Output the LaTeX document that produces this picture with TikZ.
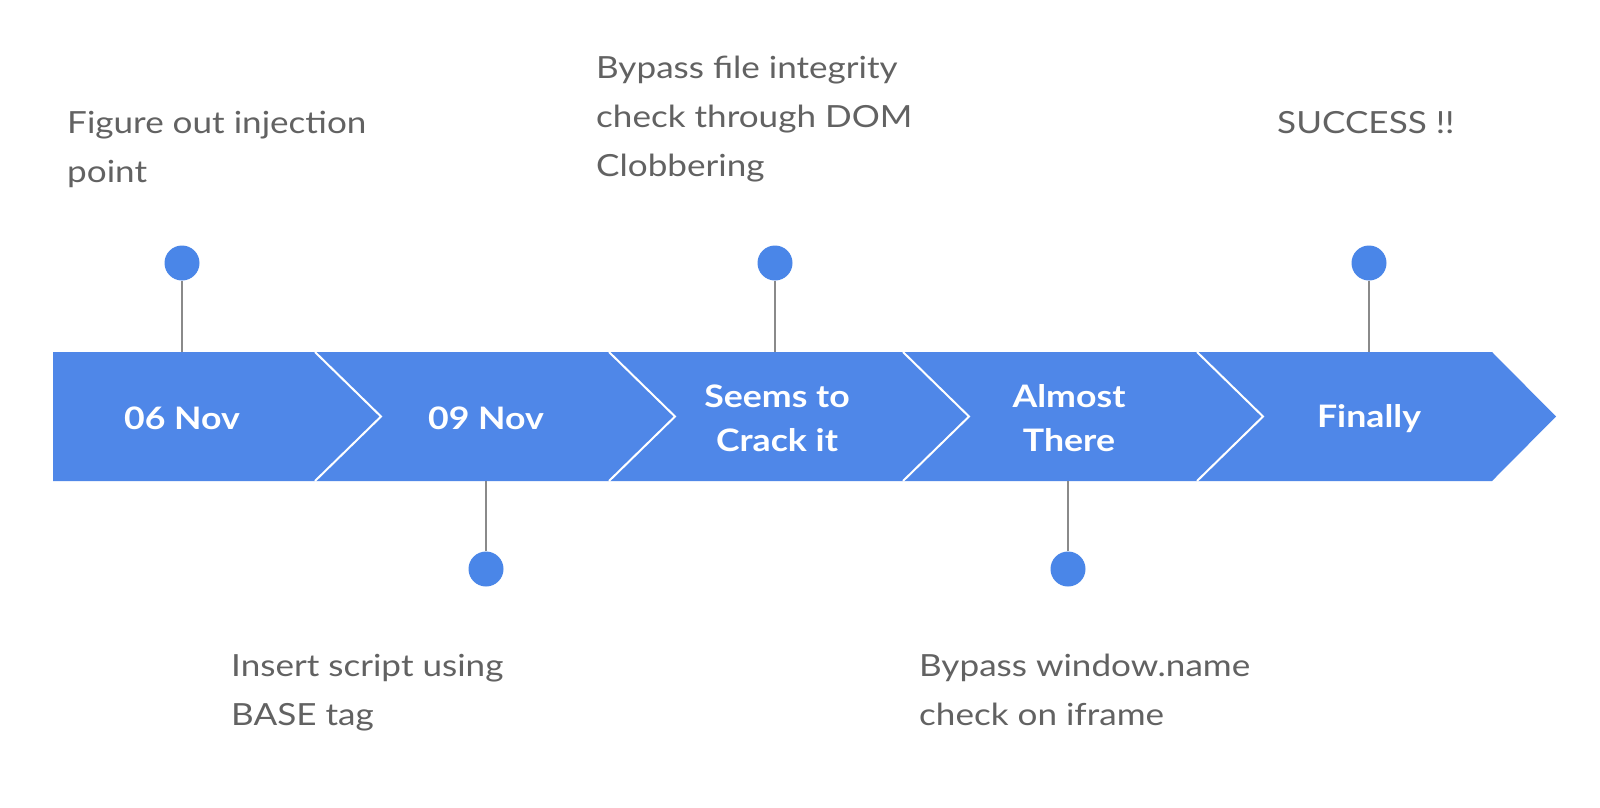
\documentclass[tikz,border=0pt]{standalone}
\usepackage{fontspec}
\setmainfont{Lato}[FakeStretch=1.15]
\begin{document}
\begin{tikzpicture}[x=1pt,y=-1pt,
  band/.style={fill=bandblue,draw=none},
  sep/.style={draw=white,line width=2pt},
  dot/.style={circle,fill=dotblue,draw=none,minimum size=35pt,inner sep=0pt},
  stem/.style={draw=stemgray,line width=2pt},
  label/.style={text=labgray,font=\fontsize{30.5}{49}\selectfont,align=left,anchor=base west,inner sep=0pt},
  stage/.style={text=white,font=\bfseries\fontsize{31}{44}\selectfont,align=center,inner sep=0pt}
]
\definecolor{bandblue}{HTML}{4F87E8}
\definecolor{dotblue}{HTML}{4A86E8}
\definecolor{stemgray}{HTML}{8A8A8A}
\definecolor{labgray}{HTML}{626262}
\useasboundingbox[fill=white] (0,0) rectangle (1600,807);
% band
\fill[band] (53,352) -- (1492,352) -- (1556,416.5) -- (1492,481) -- (53,481) -- cycle;
\foreach \x in {315,609,903,1197}{
  \draw[sep] (\x,352) -- (\x+66,416.5) -- (\x,481);
}
% stages
\node[stage] (s1) at (182,418.5) {06 Nov};
\node[stage] (s2) at (486,418.5) {09 Nov};
\node[stage] (s3) at (777,418.5) {Seems to\\Crack it};
\node[stage] (s4) at (1069,418.5) {Almost\\There};
\node[stage] (s5) at (1369,418.5) {Finally};
% band edge coordinates
\coordinate (t1) at (182,352);
\coordinate (b2) at (486,481);
\coordinate (t3) at (775,352);
\coordinate (b4) at (1068,481);
\coordinate (t5) at (1369,352);
% dots
\node[dot] (d1) at (182,263) {};
\node[dot] (d2) at (486,569) {};
\node[dot] (d3) at (775,263) {};
\node[dot] (d4) at (1068,569) {};
\node[dot] (d5) at (1369,263) {};
\draw[stem] (d1.south) -- (t1);
\draw[stem] (d2.north) -- (b2);
\draw[stem] (d3.south) -- (t3);
\draw[stem] (d4.north) -- (b4);
\draw[stem] (d5.south) -- (t5);
% labels (anchored at the baseline of the last line)
\node[label] (l1) at (67,182) {Figure out injection\\point};
\node[label] (l2) at (231,725) {Insert script using\\BASE tag};
\node[label] (l3) at (596,176) {Bypass file integrity\\check through DOM\\Clobbering};
\node[label] (l4) at (919,725) {Bypass window.name\\check on iframe};
\node[label] (l5) at (1277,133) {SUCCESS !!};
\end{tikzpicture}
\end{document}
